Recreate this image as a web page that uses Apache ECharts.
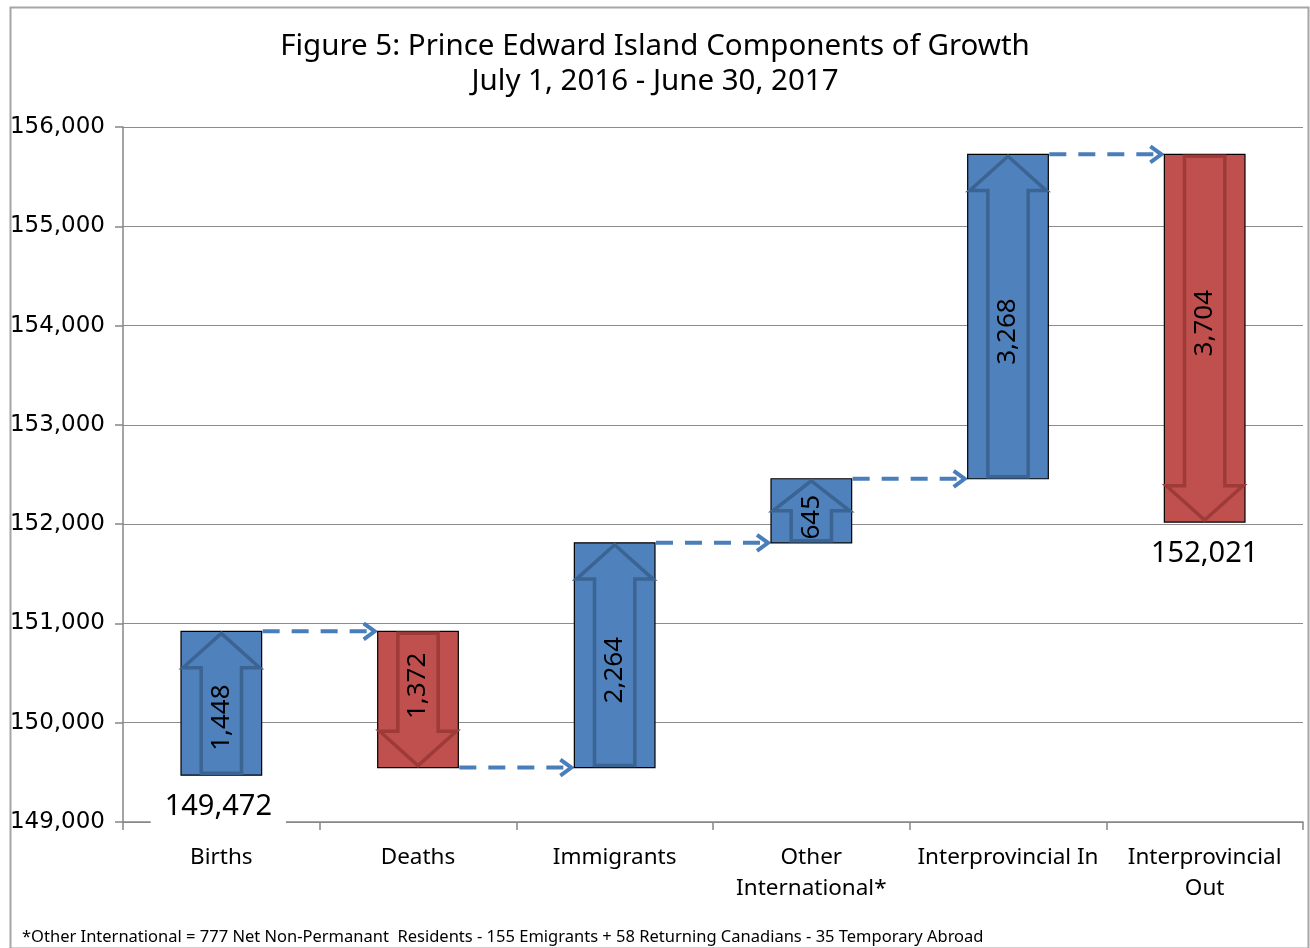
<!DOCTYPE html>
<html>
<head>
<meta charset="utf-8">
<script src="https://cdn.jsdelivr.net/npm/echarts@6/dist/echarts.min.js"></script>
<style>
html,body{margin:0;padding:0;background:#fff;}
#chart{width:1310px;height:948px;}
</style>
</head>
<body>
<div id="chart"></div>
<script>
const categories = ['Births', 'Deaths', 'Immigrants', 'Other\nInternational*', 'Interprovincial In', 'Interprovincial\nOut'];
const startPopulation = 149472;
const changes = [1448, -1372, 2264, 645, 3268, -3704];
const endPopulation = 152021;
const yMin = 149000, yMax = 156000, yStep = 1000;
const titleLines = ['Figure 5: Prince Edward Island Components of Growth', 'July 1, 2016 - June 30, 2017'];
const footnote = '*Other International = 777 Net Non-Permanant  Residents - 155 Emigrants + 58 Returning Canadians - 35 Temporary Abroad';

// build bar ranges from the running total
const barData = [];
let running = startPopulation;
changes.forEach((c, i) => {
  barData.push([i, running, running + c, c]);
  running += c;
});
const connectorData = [];
for (let i = 0; i < barData.length - 1; i++) connectorData.push([i, barData[i][2]]);

const fmt = v => Math.abs(v).toLocaleString('en-US');
const BAR_FRAC = 0.41;

function renderBar(params, api) {
  const i = api.value(0), from = api.value(1), to = api.value(2), c = api.value(3);
  const up = to > from;
  const pTop = api.coord([i, Math.max(from, to)]);
  const pBot = api.coord([i, Math.min(from, to)]);
  const w = api.size([1, 0])[0] * BAR_FRAC;
  const cx = pTop[0], x0 = cx - w / 2, x1 = cx + w / 2;
  const yT = pTop[1], yB = pBot[1], h = yB - yT;
  const fill = up ? '#4f81bd' : '#c0504d';
  const dark = up ? '#3b6493' : '#9e3b38';
  const hh = Math.min(w * 0.45, h * 0.5);
  const hs = w * 0.25;
  const ins = 2;
  let pts;
  if (up) {
    pts = [[cx, yT + ins], [x1 - ins, yT + hh], [cx + hs, yT + hh], [cx + hs, yB - ins], [cx - hs, yB - ins], [cx - hs, yT + hh], [x0 + ins, yT + hh]];
  } else {
    pts = [[cx, yB - ins], [x1 - ins, yB - hh], [cx + hs, yB - hh], [cx + hs, yT + ins], [cx - hs, yT + ins], [cx - hs, yB - hh], [x0 + ins, yB - hh]];
  }
  const off = (up ? 1 : -1) * Math.min(15, h * 0.1);
  const children = [
    { type: 'rect', shape: { x: x0, y: yT, width: w, height: h }, style: { fill: fill, stroke: '#000', lineWidth: 1.2 } },
    { type: 'polygon', shape: { points: pts }, style: { fill: 'none', stroke: dark, lineWidth: 3.5 } },
    { type: 'text', x: cx, y: (yT + yB) / 2 + off, rotation: Math.PI / 2,
      style: { text: fmt(c), fill: '#000', font: '26px "Noto Sans"', align: 'center', verticalAlign: 'middle' } }
  ];
  if (i === 0) {
    children.push({ type: 'text', x: cx - 3, y: yB + 32,
      style: { text: fmt(from), fill: '#000', font: '29px "Noto Sans"', align: 'center', verticalAlign: 'middle',
        backgroundColor: '#fff', padding: [2, 14, 6, 14] } });
  }
  if (i === changes.length - 1) {
    children.push({ type: 'text', x: cx, y: yB + 32,
      style: { text: fmt(endPopulation), fill: '#000', font: '29px "Noto Sans"', align: 'center', verticalAlign: 'middle' } });
  }
  return { type: 'group', children: children };
}

function renderConnector(params, api) {
  const i = api.value(0), v = api.value(1);
  const w = api.size([1, 0])[0] * BAR_FRAC;
  const p0 = api.coord([i, v]);
  const p1 = api.coord([i + 1, v]);
  const xs = p0[0] + w / 2 + 1, xe = p1[0] - w / 2 - 3, y = p0[1];
  const col = '#4a7ebb';
  return { type: 'group', children: [
    { type: 'line', shape: { x1: xs, y1: y, x2: xe - 2, y2: y }, style: { stroke: col, lineWidth: 4, lineDash: [17, 12] } },
    { type: 'polyline', shape: { points: [[xe - 11, y - 8], [xe, y], [xe - 11, y + 8]] }, style: { stroke: col, lineWidth: 4, fill: 'none' } }
  ] };
}

const chart = echarts.init(document.getElementById('chart'), null, { renderer: 'canvas' });
chart.setOption({
  animation: false,
  backgroundColor: '#fff',
  title: {
    text: titleLines.join('\n'), left: 'center', top: 24,
    textStyle: { fontFamily: 'Noto Sans', fontSize: 29.5, fontWeight: 'normal', color: '#000', lineHeight: 35 }
  },
  grid: { left: 123, right: 7, top: 127, bottom: 126 },
  xAxis: {
    type: 'category', data: categories, boundaryGap: true,
    axisLine: { lineStyle: { color: '#868686', width: 1.5 } },
    axisTick: { show: true, length: 8, alignWithLabel: false, lineStyle: { color: '#868686', width: 1.5 } },
    axisLabel: { color: '#000', fontFamily: 'Noto Sans', fontSize: 22.5, margin: 20, lineHeight: 31, interval: 0 }
  },
  yAxis: {
    type: 'value', min: yMin, max: yMax, interval: yStep,
    axisLine: { show: true, lineStyle: { color: '#868686', width: 1.5 } },
    axisTick: { show: true, length: 8, lineStyle: { color: '#868686', width: 1.5 } },
    splitLine: { lineStyle: { color: '#8c8c8c', width: 1.2 } },
    axisLabel: { color: '#000', fontFamily: 'DejaVu Sans', fontSize: 23, margin: 18,
      formatter: v => v.toLocaleString('en-US') }
  },
  graphic: [
    { type: 'rect', left: 8, top: 5, shape: { width: 1298, height: 941 }, style: { fill: 'none', stroke: '#a6a6a6', lineWidth: 2 }, z: -1 },
    { type: 'text', left: 22, top: 929, style: { text: footnote, fill: '#000', font: '16.5px "Noto Sans"' } }
  ],
  series: [
    { type: 'custom', renderItem: renderConnector, data: connectorData, z: 3 },
    { type: 'custom', renderItem: renderBar, data: barData, z: 4 }
  ]
});
</script>
</body>
</html>
